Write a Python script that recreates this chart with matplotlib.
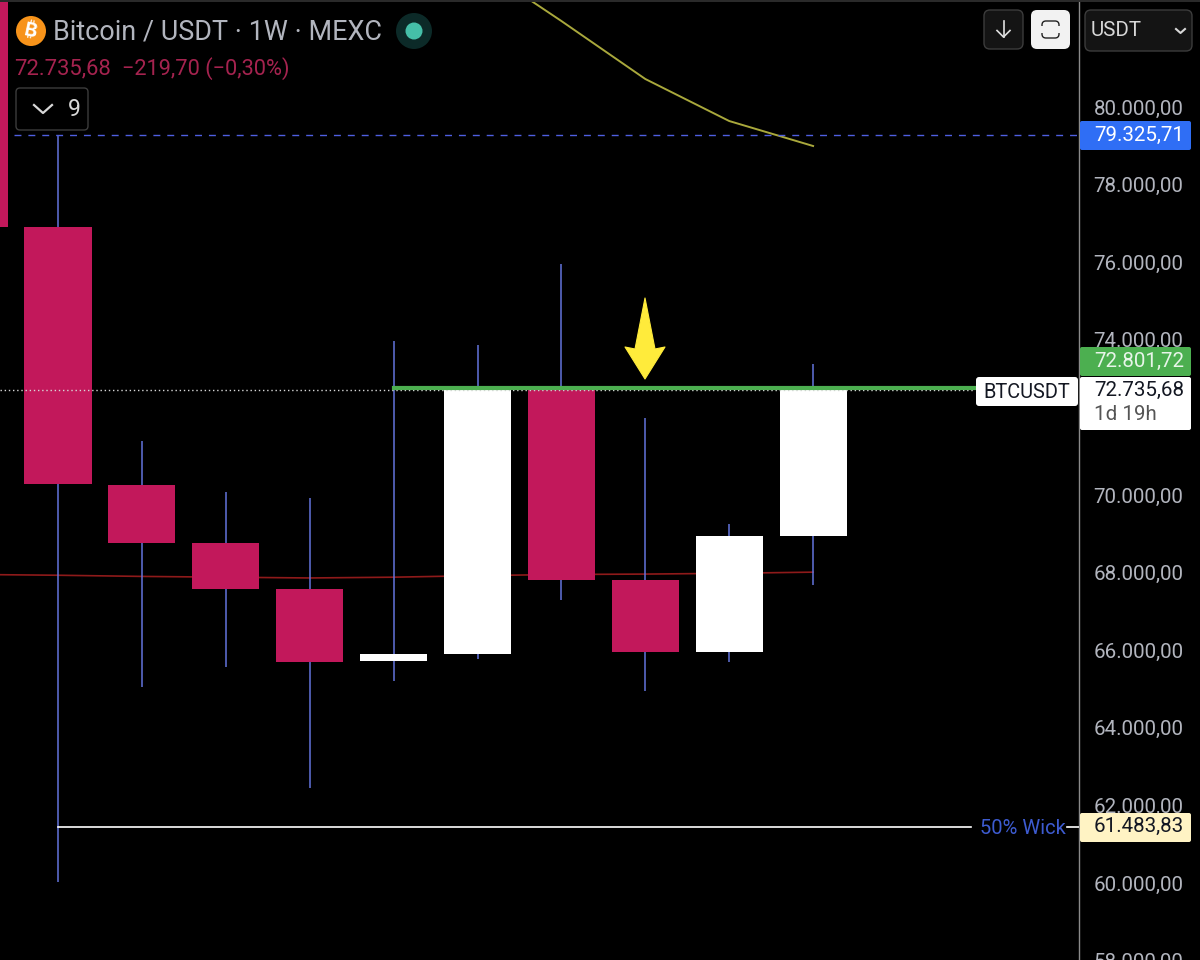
import matplotlib
matplotlib.use("Agg")
import matplotlib.pyplot as plt
from matplotlib.patches import FancyBboxPatch, Circle, Polygon, Rectangle
from matplotlib.transforms import ScaledTranslation

plt.rcParams['font.family'] = ['Roboto', 'DejaVu Sans']

# Data, weekly candles (index -1 is only partly in view)
idx    = [-1, 0, 1, 2, 3, 4, 5, 6, 7, 8, 9]
opens  = [86000, 76945, 70296, 68801, 67615, 65760, 65940, 72801.72, 67847, 65992, 68981]
closes = [76945, 70322, 68801, 67615, 65734, 65938, 72801.72, 67847, 65992, 68981, 72735.68]
highs  = [88000, 79325.71, 71430, 70115, 69961, 74007, 73904, 75992, 72023, 69291, 73414]
lows   = [76000, 60070, 65090, 65605, 62486, 65244, 65811, 67332, 64986, 65734, 67718]

ma_red_x = [-1, 0, 1, 2, 3, 4, 5, 6, 7, 8, 9]
ma_red_y = [67990, 67970, 67940, 67920, 67900, 67920, 67960, 67990, 68000, 68020, 68050]
ma_yel_x = [5, 6, 7, 8, 9]
ma_yel_y = [83700, 82254, 80760, 79677, 79033]

yticks = [58000, 60000, 62000, 64000, 66000, 68000, 70000, 74000, 76000, 78000, 80000]
ytick_labels = ['58.000,00', '60.000,00', '62.000,00', '64.000,00', '66.000,00', '68.000,00',
                '70.000,00', '74.000,00', '76.000,00', '78.000,00', '80.000,00']

last_price = 72735.68
green_level = 72801.72
high_level = 79325.71
wick_level = 61483.83

BG = '#000000'
RED = '#c2185b'
WICK = '#6374dc'
GREY = '#b2b5be'

fig = plt.figure(figsize=(12, 9.6), dpi=100, facecolor=BG)

# main chart, index i sits at 58 + 83.9*i px
# axes run 10px past the bottom edge so the 58.000 tick still gets drawn
ax = fig.add_axes([0, -10/960, 1079/1200, 970/960], facecolor=BG)
for s in ax.spines.values():
    s.set_visible(False)
ax.spines['right'].set_visible(True)
ax.spines['right'].set_color('#8a8a8a')
ax.spines['right'].set_linewidth(1)
ax.set_xticks([])
ax.yaxis.tick_right()
ax.set_yticks(yticks)
ax.set_yticklabels(ytick_labels, fontsize=14.8, color=GREY)
ax.tick_params(axis='y', length=0, pad=10.5)
ax.set_xlim(-58/83.9, (1079-58)/83.9)
ax.set_ylim(57796, 82796)
# labels sit about 1.5px above their price
for lab in ax.get_yticklabels():
    lab.set_transform(lab.get_transform() + ScaledTranslation(0, 1.08/72, fig.dpi_scale_trans))

ax.plot(ma_red_x, ma_red_y, color='#8e1a1a', lw=1.2, zorder=2)
ax.plot(ma_yel_x, ma_yel_y, color='#a9a83c', lw=1.4, zorder=2)

ax.vlines(idx, lows, highs, color=WICK, lw=1.1, zorder=3)
for i, o, c in zip(idx, opens, closes):
    ax.bar(i, abs(c-o), bottom=min(o, c), width=0.8, color='white' if c > o else RED, zorder=4)

ax.plot([-0.69, 10.93], [last_price, last_price], color='#d8d8d8', lw=1, ls=(0, (1, 2)), zorder=5)
ax.plot([4, 10.93], [green_level, green_level], color='#4caf50', lw=3, zorder=5)
ax.plot([-0.52, 12.17], [high_level, high_level], color='#4f5fe0', lw=1, ls=(0, (5, 5)), zorder=5)
ax.plot([0, 10.88], [wick_level, wick_level], color='white', lw=1.2, zorder=5)
ax.plot([12.03, 12.17], [wick_level, wick_level], color='white', lw=1.2, zorder=5)
ax.set_xlim(-58/83.9, (1079-58)/83.9)
ax.set_ylim(57796, 82796)

# overlay for the TradingView widgets, in pixel coords
ui = fig.add_axes([0, 0, 1, 1], facecolor='none')
ui.set_xlim(0, 1200)
ui.set_ylim(960, 0)
ui.axis('off')


def box(x0, y0, x1, y1, fc, ec='none', r=3):
    ui.add_patch(FancyBboxPatch((x0+r, y0+r), x1-x0-2*r, y1-y0-2*r,
                                boxstyle='round,pad=%g,rounding_size=%g' % (r, r),
                                fc=fc, ec=ec, lw=1))


ui.add_patch(Rectangle((0, 0), 1200, 2, fc='#2a2a2a', ec='none'))

# header
ui.add_patch(Circle((31, 31), 15, fc='#f7931a', ec='none'))
ui.text(31, 31, '₿', color='white', fontsize=14, fontweight='bold', ha='center', va='center',
        family=['Inter', 'Noto Sans', 'Open Sans', 'Lato', 'Liberation Sans'], rotation=-12)
ui.text(53, 32, 'Bitcoin / USDT · 1W · MEXC', color=GREY, fontsize=19.45, va='center')
ui.add_patch(Circle((414, 31), 18, fc='#0c2a28', ec='none'))
ui.add_patch(Circle((414, 31), 8.5, fc='#45bfa8', ec='none'))
ui.text(14, 69, '72.735,68', color='#a5234f', fontsize=15.8, va='center')
ui.text(122, 69, '−219,70 (−0,30%)', color='#a5234f', fontsize=15.7, va='center')

box(16, 88, 88, 130, '#000000', '#3c3c3c', 4)
ui.plot([34, 43, 52], [105, 113, 105], color='#d8d8d8', lw=1.6)
ui.text(74, 110, '9', color='#d8d8d8', fontsize=16.5, ha='center', va='center')

# top right buttons
box(984, 10, 1023, 49, '#141414', '#3c3c3c', 6)
ui.plot([1003.5, 1003.5], [21, 37], color='#e0e0e0', lw=1.2)
ui.plot([997, 1003.5, 1010], [30.5, 37, 30.5], color='#e0e0e0', lw=1.2)
box(1031, 10, 1070, 49, '#f2f2f2', 'none', 6)
box(1042, 21, 1059, 38, 'none', '#222222', 4)
ui.add_patch(Rectangle((1040, 26), 21, 7, fc='#f2f2f2', ec='none'))
box(1085, 10, 1192, 51, '#141414', '#3c3c3c', 6)
ui.text(1091, 31, 'USDT', color='#d8d8d8', fontsize=14.8, va='center')
ui.plot([1176, 1180.5, 1185], [29, 33, 29], color='#d8d8d8', lw=1.5)

# arrow
ui.add_patch(Polygon([(645, 298), (655, 349), (665, 347), (645, 379), (625, 347), (635, 349)],
                     fc='#ffeb3b', ec='#ffeb3b', lw=0.8, joinstyle='round'))

# price labels
box(1080, 121, 1191, 150, '#2f6ef5', 'none', 2)
ui.text(1094, 135, '79.325,71', color='white', fontsize=14.8, va='center')
box(1080, 347, 1191, 376, '#4caf50', 'none', 2)
ui.text(1094, 361, '72.801,72', color='#e8f5e9', fontsize=14.8, va='center')
box(976, 377, 1078, 406, 'white', 'none', 3)
ui.text(983, 392, 'BTCUSDT', color='#131722', fontsize=14.4, va='center')
box(1080, 377, 1191, 430, 'white', 'none', 2)
ui.text(1094, 390, '72.735,68', color='#131722', fontsize=14.8, va='center')
ui.text(1094, 414, '1d 19h', color='#555555', fontsize=14.8, va='center')
ui.text(980, 829, '50% Wick', color='#3d5bd0', fontsize=14.5, va='center')
box(1080, 813, 1191, 842, '#fff3c4', 'none', 2)
ui.text(1094, 826, '61.483,83', color='#131722', fontsize=14.8, va='center')

fig.savefig('out.png', dpi=100, facecolor=BG)
